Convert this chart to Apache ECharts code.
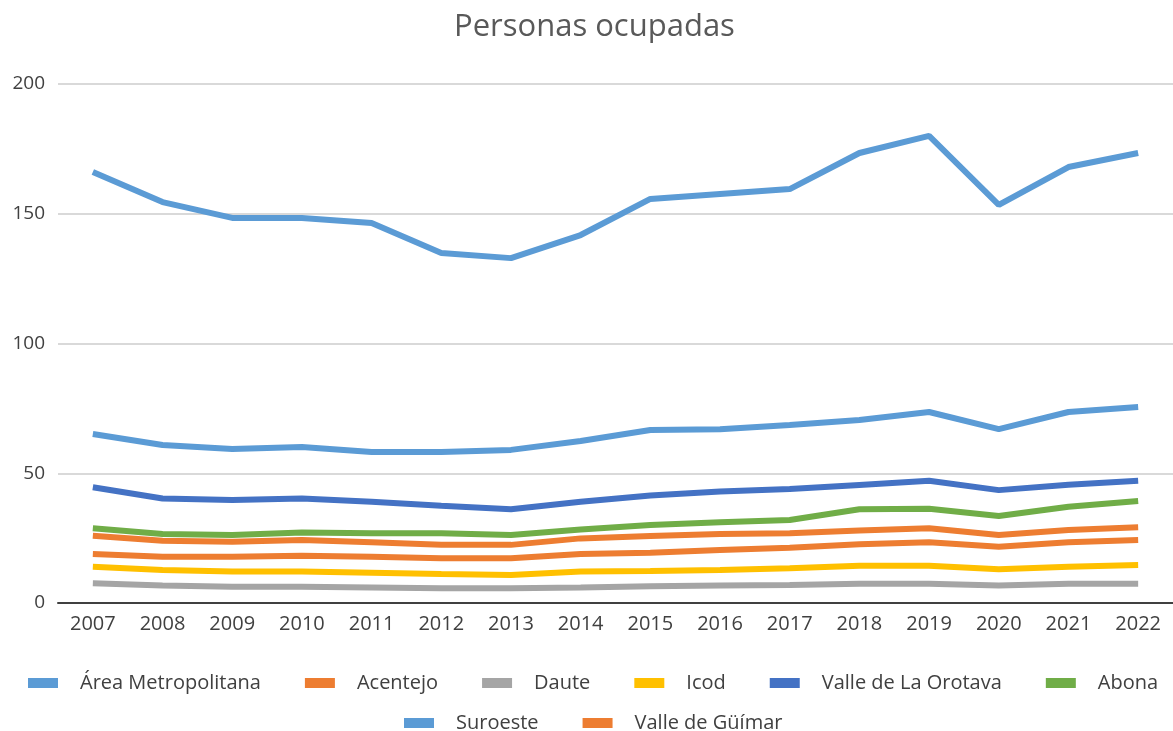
<!DOCTYPE html>
<html>
<head>
<meta charset="utf-8">
<script src="https://cdn.jsdelivr.net/npm/echarts@6/dist/echarts.min.js"></script>
<style>
  html, body { margin: 0; padding: 0; background: #fff; }
  #chart { width: 1173px; height: 731px; }
</style>
</head>
<body>
<div id="chart"></div>
<script>
// Data
var years = ['2007', '2008', '2009', '2010', '2011', '2012', '2013', '2014',
             '2015', '2016', '2017', '2018', '2019', '2020', '2021', '2022'];

var areaMetropolitana = [166.1, 154.5, 148.4, 148.4, 146.4, 134.9, 132.9, 141.8, 155.7, 157.6, 159.5, 173.4, 180.0, 153.4, 168.0, 173.4];
var acentejo = [18.9, 17.8, 17.8, 18.2, 17.8, 17.2, 17.2, 18.9, 19.4, 20.4, 21.3, 22.6, 23.4, 21.7, 23.4, 24.3];
var daute = [7.6, 6.7, 6.3, 6.3, 6.0, 5.7, 5.7, 6.0, 6.5, 6.7, 6.9, 7.4, 7.4, 6.7, 7.4, 7.4];
var icod = [14.0, 12.7, 12.1, 12.1, 11.7, 11.2, 10.8, 12.1, 12.3, 12.7, 13.4, 14.4, 14.4, 13.0, 14.0, 14.6];
var valleOrotava = [44.6, 40.3, 39.7, 40.3, 39.0, 37.5, 36.1, 39.0, 41.4, 43.0, 43.9, 45.5, 47.1, 43.5, 45.6, 47.1];
var abona = [28.8, 26.6, 26.2, 27.2, 26.9, 26.9, 26.2, 28.3, 30.1, 31.1, 32.0, 36.1, 36.3, 33.5, 37.1, 39.3];
var suroeste = [65.1, 60.9, 59.3, 60.1, 58.2, 58.2, 59.0, 62.4, 66.7, 67.0, 68.6, 70.5, 73.6, 67.0, 73.6, 75.5];
var valleGuimar = [25.9, 24.0, 23.6, 24.3, 23.4, 22.4, 22.4, 24.9, 25.8, 26.6, 26.9, 27.9, 28.8, 26.2, 28.1, 29.2];

var seriesNames = ['Área Metropolitana', 'Acentejo', 'Daute', 'Icod',
                   'Valle de La Orotava', 'Abona', 'Suroeste', 'Valle de Güímar'];
var seriesData = [areaMetropolitana, acentejo, daute, icod,
                  valleOrotava, abona, suroeste, valleGuimar];
var seriesColors = ['#5B9BD5', '#ED7D31', '#A5A5A5', '#FFC000',
                    '#4472C4', '#70AD47', '#5B9BD5', '#ED7D31'];

var chart = echarts.init(document.getElementById('chart'));

// two legend rows, placed separately like the original
var legendBase = {
    padding: 0,
    icon: 'rect',
    itemWidth: 30,
    itemHeight: 10,
    itemGap: 44,
    textStyle: {
        color: '#404040',
        fontSize: 20,
        lineHeight: 22,
        padding: [0, 0, 0, 17]
    }
};

chart.setOption({
    animation: false,
    textStyle: {
        fontFamily: '"Open Sans", sans-serif'
    },
    color: seriesColors,
    title: {
        text: 'Personas ocupadas',
        left: 449,
        top: 7,
        textStyle: {
            color: '#595959',
            fontSize: 31,
            fontWeight: 'normal'
        }
    },
    grid: {
        left: 58,
        right: 0,
        top: 84,
        bottom: 128
    },
    legend: [
        Object.assign({}, legendBase, { left: 28, top: 672, data: seriesNames.slice(0, 6) }),
        Object.assign({}, legendBase, { left: 404, top: 712, data: seriesNames.slice(6) })
    ],
    xAxis: {
        type: 'category',
        data: years,
        boundaryGap: true,
        axisLine: {
            lineStyle: { color: '#404040', width: 2 }
        },
        axisTick: { show: false },
        axisLabel: {
            color: '#404040',
            fontSize: 20,
            margin: 11
        }
    },
    yAxis: {
        type: 'value',
        min: 0,
        max: 200,
        interval: 50,
        axisLine: { show: false },
        axisTick: { show: false },
        axisLabel: {
            color: '#404040',
            fontSize: 19,
            margin: 13
        },
        splitLine: {
            lineStyle: { color: '#D9D9D9', width: 2 }
        }
    },
    series: seriesNames.map(function (name, i) {
        return {
            name: name,
            type: 'line',
            data: seriesData[i],
            showSymbol: false,
            symbol: 'none',
            lineStyle: { width: 6, color: seriesColors[i] },
            itemStyle: { color: seriesColors[i] }
        };
    })
});
</script>
</body>
</html>
